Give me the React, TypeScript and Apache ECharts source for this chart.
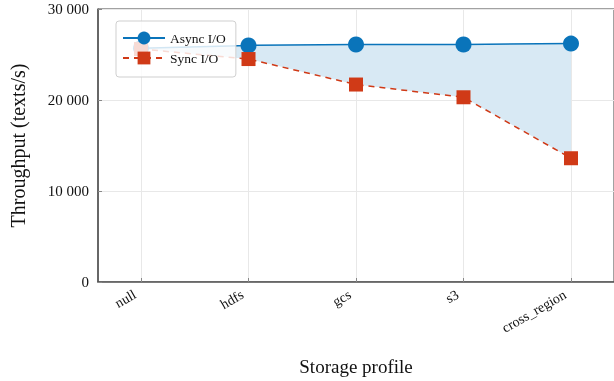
import React, { useEffect, useRef } from "react";
import * as echarts from "echarts";

const categories = ["null", "hdfs", "gcs", "s3", "cross_region"];
const asyncIO = [25700, 26000, 26100, 26100, 26200];
const syncIO = [25600, 24500, 21700, 20300, 13600];
const yTicks = [0, 10000, 20000, 30000];

const FONT = "'Liberation Serif', 'DejaVu Serif', serif";

function fmt(v: number) {
  return String(v).replace(/\B(?=(\d{3})+(?!\d))/g, " ");
}

export default function App() {
  const ref = useRef<HTMLDivElement>(null);
  useEffect(() => {
    if (!ref.current) return;
    const chart = echarts.init(ref.current, undefined, { renderer: "svg" });
    const xs = categories.map((_, i) => i);
    chart.setOption({
      animation: false,
      textStyle: { fontFamily: FONT },
      grid: {
        left: 97,
        top: 9,
        width: 519,
        height: 276,
        show: true,
        borderColor: "#444",
        borderWidth: 1,
        backgroundColor: "transparent",
      },
      legend: {
        data: ["Async I/O", "Sync I/O"],
        orient: "vertical",
        left: 116,
        top: 21,
        z: 20,
        zlevel: 0,
        itemWidth: 42,
        itemHeight: 16,
        itemGap: 6,
        padding: [10, 10, 12, 6],
        backgroundColor: "rgba(255,255,255,0.82)",
        borderColor: "#cfcfcf",
        borderWidth: 1,
        borderRadius: 3,
        textStyle: { fontFamily: FONT, fontSize: 13.5, color: "#111" },
      },
      xAxis: {
        type: "value",
        min: -0.4,
        max: 4.4,
        name: "Storage profile",
        nameLocation: "middle",
        nameGap: 75,
        nameTextStyle: { fontFamily: FONT, fontSize: 19, color: "#111" },
        axisLine: { show: true, onZero: false, lineStyle: { color: "#555", width: 1.5 } },
        axisTick: {
          show: true,
          inside: true,
          length: 4,
          customValues: xs,
          lineStyle: { color: "#888" },
        },
        axisLabel: {
          customValues: xs,
          rotate: 30,
          fontFamily: FONT,
          fontSize: 14,
          color: "#111",
          margin: 8,
          padding: [0, 7, 0, 0],
          formatter: (v: number) => categories[Math.round(v)] ?? "",
        },
        splitLine: { show: true, lineStyle: { color: "#e8e8e8", width: 1 } },
      },
      yAxis: {
        type: "value",
        min: 0,
        max: 30000,
        interval: 10000,
        name: "Throughput (texts/s)",
        nameLocation: "middle",
        nameGap: 70,
        nameTextStyle: { fontFamily: FONT, fontSize: 20, color: "#111" },
        axisLine: { show: true, onZero: false, lineStyle: { color: "#555", width: 1.5 } },
        axisTick: { show: true, inside: true, length: 4, lineStyle: { color: "#888" } },
        axisLabel: {
          fontFamily: FONT,
          fontSize: 15,
          color: "#111",
          margin: 9,
          formatter: (v: number) => (yTicks.includes(v) ? fmt(v) : ""),
        },
        splitLine: { show: true, lineStyle: { color: "#e8e8e8", width: 1 } },
      },
      series: [
        {
          name: "band",
          type: "custom",
          data: [[0]],
          silent: true,
          z: 1,
          renderItem: (_params: any, api: any) => {
            const top = asyncIO.map((v, i) => api.coord([i, v]));
            const bottom = syncIO.map((v, i) => api.coord([i, v])).reverse();
            return {
              type: "polygon",
              shape: { points: top.concat(bottom) },
              style: { fill: "#d8e9f4", stroke: "none" },
            };
          },
        },
        {
          name: "Async I/O",
          type: "line",
          data: asyncIO.map((v, i) => [i, v]),
          symbol: "circle",
          symbolSize: 16,
          color: "#0a74ba",
          lineStyle: { color: "#0a74ba", width: 1.5 },
          itemStyle: { color: "#0a74ba" },
          z: 2,
        },
        {
          name: "Sync I/O",
          type: "line",
          data: syncIO.map((v, i) => [i, v]),
          symbol: "rect",
          symbolSize: 14,
          color: "#d03a17",
          lineStyle: { color: "#d03a17", width: 1.5, type: [6, 5] },
          itemStyle: { color: "#d03a17" },
          z: 3,
        },
      ],
    });
    return () => chart.dispose();
  }, []);
  return (
    <div
      ref={ref}
      style={{ position: "fixed", left: 0, top: 0, width: 614, height: 381 }}
    />
  );
}
